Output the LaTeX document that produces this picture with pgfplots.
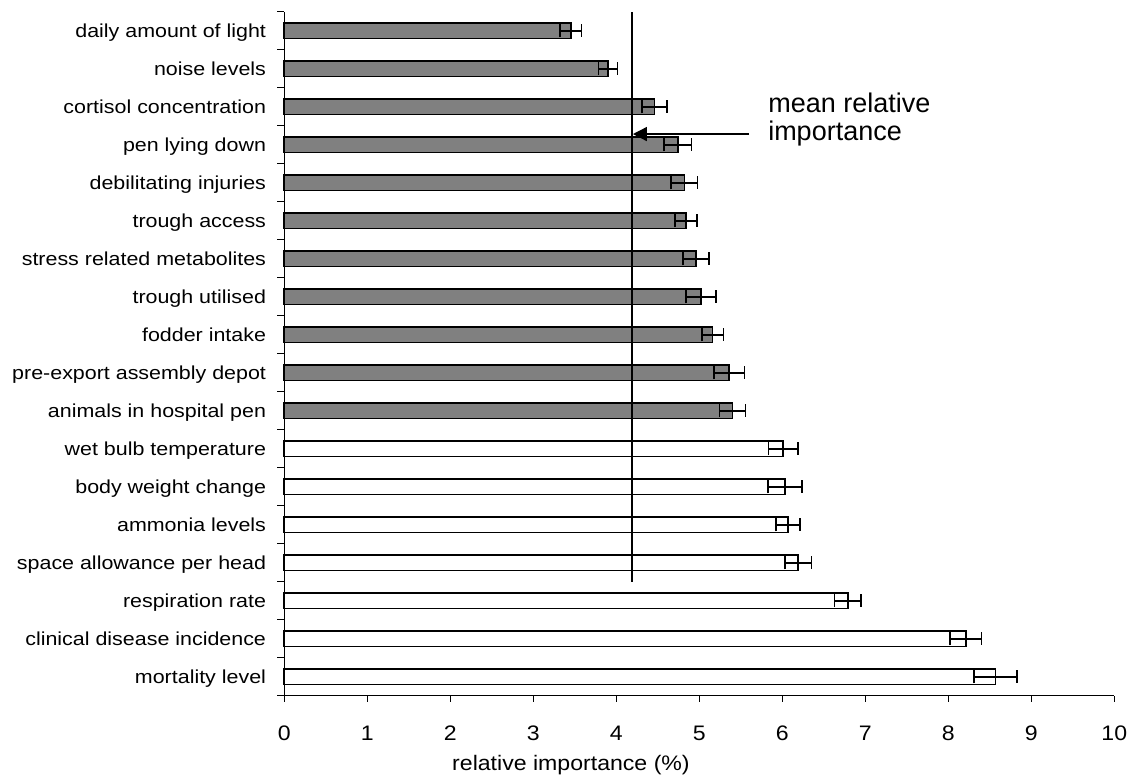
\documentclass[border=0pt]{standalone}
\usepackage{pgfplots}
\usepackage{pgfplotstable}
\pgfplotsset{compat=1.18}
\usepackage{fontspec}
\setmainfont{Liberation Sans}
\usetikzlibrary{arrows.meta}

\pgfplotstableread{
y val err
17.5 3.45 0.13
16.5 3.90 0.115
15.5 4.46 0.15
14.5 4.74 0.165
13.5 4.82 0.16
12.5 4.84 0.13
11.5 4.96 0.16
10.5 5.02 0.18
9.5 5.16 0.13
8.5 5.36 0.185
7.5 5.40 0.155
}\grayset
\pgfplotstableread{
y val err
6.5 6.01 0.175
5.5 6.035 0.205
4.5 6.07 0.145
3.5 6.19 0.16
2.5 6.79 0.16
1.5 8.21 0.19
0.5 8.57 0.26
}\whiteset

\begin{document}
\begin{tikzpicture}
\path[use as bounding box] (0,0) rectangle (570pt,388.5pt);
\begin{axis}[
  at={(142.15pt,40.65pt)}, anchor=south west,
  scale only axis, width=415pt, height=342pt,
  xmin=0, xmax=10, ymin=0, ymax=18,
  axis x line*=bottom, axis y line*=left,
  axis line style={black, line width=0.6pt},
  xtick={0,1,...,10},
  tick align=outside,
  major tick length=3pt,
  minor tick length=3.5pt,
  ytick={0.5,1.5,2.5,3.5,4.5,5.5,6.5,7.5,8.5,9.5,10.5,11.5,12.5,13.5,14.5,15.5,16.5,17.5},
  yticklabels={mortality level, clinical disease incidence, respiration rate, space allowance per head, ammonia levels, body weight change\hspace{2.7pt}, wet bulb temperature, animals in hospital pen, pre-export assembly depot, fodder intake, trough utilised, stress related metabolites, trough access\hspace{2.7pt}, debilitating injuries, pen lying down, cortisol concentration, noise levels, daily amount of light},
  minor ytick={0,1,...,18},
  major y tick style={draw=none},
  minor y tick style={black, line width=0.6pt},
  major x tick style={black, line width=0.6pt},
  /pgf/number format/assume math mode=true,
  xticklabel style={font=\fontsize{10.5pt}{12pt}\selectfont, xscale=1.1, anchor=base, inner sep=0pt, yshift=-19.15pt},
  yticklabel style={font=\fontsize{9.4pt}{11pt}\selectfont, xscale=1.14, anchor=base east, inner sep=0pt, xshift=-5.2pt, yshift=-3.3pt},
  xlabel={relative importance (\%)},
  xlabel style={at={(rel axis cs:0.3454,0)}, anchor=base, yshift=-37.15pt, font=\fontsize{10.5pt}{12pt}\selectfont, xscale=1.1, inner sep=0pt},
  clip=false,
]
\addplot[xbar, bar width=7.75pt, bar shift=0pt, fill=black!50, draw=black, line width=0.85pt,
  error bars/.cd, x dir=both, x explicit, error mark=|,
  error bar style={line width=0.85pt, black},
  error mark options={black, mark size=3.3pt, line width=0.85pt}]
  table[x=val, y=y, x error=err] {\grayset};
\addplot[xbar, bar width=7.75pt, bar shift=0pt, fill=white, draw=black, line width=0.85pt,
  error bars/.cd, x dir=both, x explicit, error mark=|,
  error bar style={line width=0.85pt, black},
  error mark options={black, mark size=3.3pt, line width=0.85pt}]
  table[x=val, y=y, x error=err] {\whiteset};
\addplot[black, line width=1pt] coordinates {(4.185,3) (4.185,18)};
\addplot[black, line width=0.7pt, -{Triangle[length=7pt,width=7pt]}] coordinates {(5.60,14.78) (4.20,14.78)};
\node[anchor=base west, inner sep=0pt, font=\fontsize{13.5pt}{16pt}\selectfont] at (axis cs:5.826,15.36) {mean relative};
\node[anchor=base west, inner sep=0pt, font=\fontsize{13.5pt}{16pt}\selectfont] at (axis cs:5.826,14.60) {importance};
\end{axis}
\end{tikzpicture}
\end{document}
